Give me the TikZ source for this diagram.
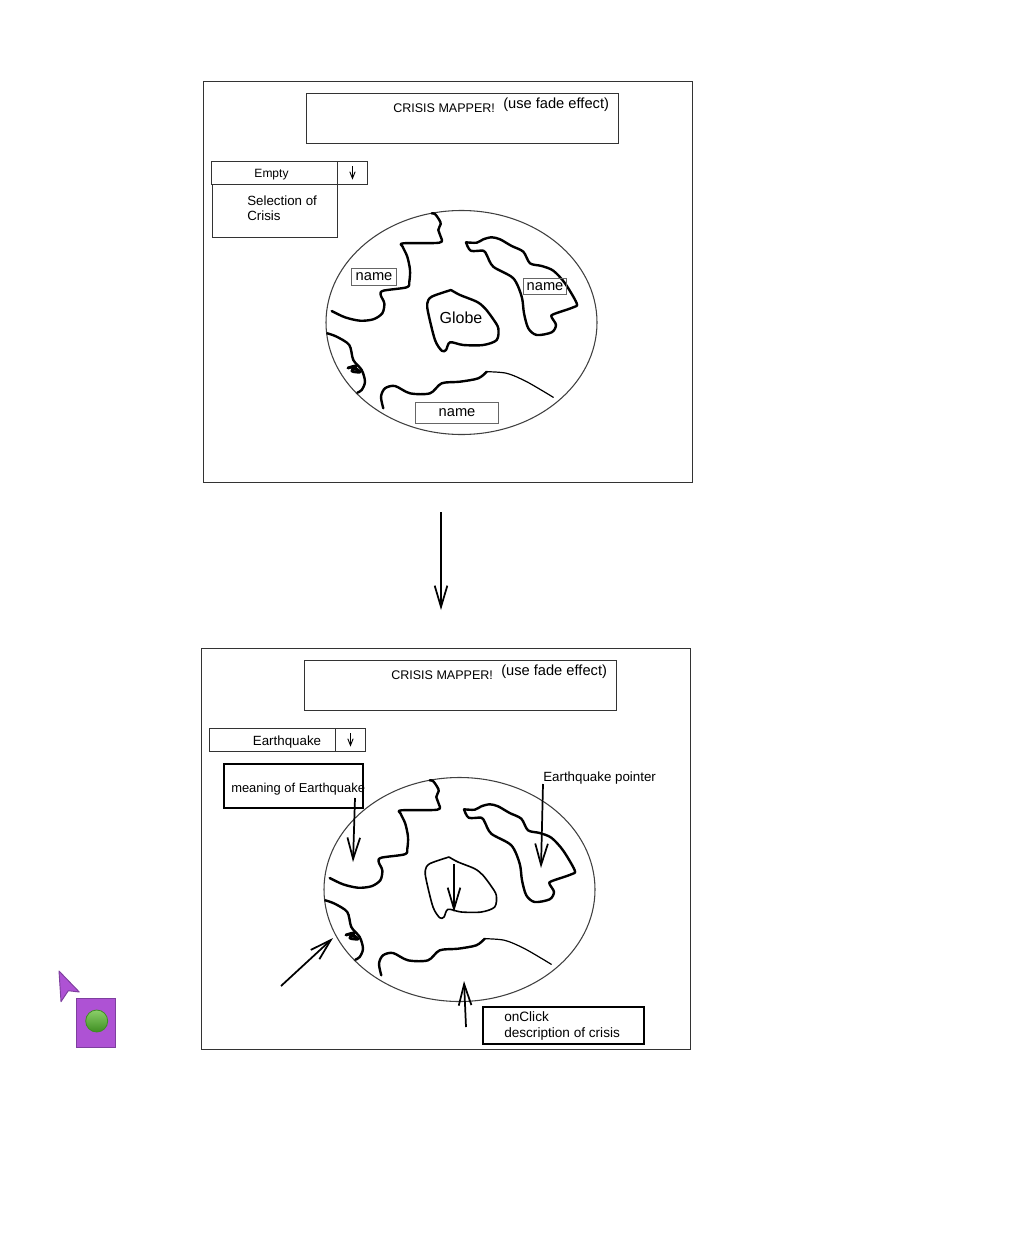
\documentclass[tikz,border=0pt]{standalone}
\usepackage{fontspec}
\setmainfont{Liberation Sans}
\usetikzlibrary{arrows.meta,shapes.geometric}
\definecolor{cursorfill}{HTML}{AE52D4}
\definecolor{cursoredge}{HTML}{7E3F9E}
\definecolor{dottop}{HTML}{8BCF6A}
\definecolor{dotbottom}{HTML}{3E8E22}
\tikzset{
  wh/.style 2 args={minimum width=#1*0.75pt,minimum height=#2*0.75pt,inner sep=0pt,anchor=north west},
  wirebox/.style={draw=black!80,line width=0.7pt},
  graybox/.style={draw=black!60,line width=0.8pt},
  heavybox/.style={draw=black,line width=1.6pt},
  hand/.style={font=\fontsize{10}{11.3}\selectfont,inner sep=0pt},
  coast/.style={line width=1.8pt,line cap=round,line join=round},
  pointer/.style={line width=1.3pt,-{Straight Barb[length=16pt,width=9.5pt]}},
  pics/mapper/.style={code={
    % Frame and title
    \node [wirebox,wh={489}{401}] (frame) at (203,81) {};
    \node [wirebox,wh={312}{50}] (title) at (306,93) {};
    \node [hand,anchor=west,font=\fontsize{9.4}{11}\selectfont] (heading) at (393,108) {CRISIS MAPPER!};
    \node [hand,anchor=west,font=\fontsize{11}{12}\selectfont] (fade) at (503,105) {(use fade effect)};
    % Combo box
    \node [wirebox,wh={126}{23}] (combo) at (211,161) {};
    \node [wirebox,wh={30}{23}] (cell) at (337,161) {};
    \draw [line width=0.7pt,xshift=-1.5pt,-{Straight Barb[length=5pt,width=4pt]},shorten <=4pt,shorten >=4pt] (cell.north) -- (cell.south);
    % Globe
    \node [draw=black!75,line width=0.8pt,ellipse,minimum width=271*0.75pt,minimum height=224*0.75pt,inner sep=0pt] (globe) at (461.5,322.5) {};
    \draw [coast] plot [smooth,tension=0.5] coordinates {(431.7,213.3) (435,214) (439.3,220) (440.7,224) (438.3,230) (440.7,236.7) (439.3,242.7) (403.3,243.3) (402.7,246.7) (407.3,256.7) (410,270) (409.3,281.7) (406.7,287.3) (383.3,290.7) (380.7,295) (384.3,303.3) (382.3,313.3) (373.3,319.3) (360,320.7) (345,317.3) (331.7,311)};
    \draw [coast] plot [smooth,tension=0.5] coordinates {(466,242.3) (476.7,242.7) (483.3,239.3) (491.7,237.3) (500,239.3) (511.7,246) (523.3,251.7) (530,263.3) (541.7,266) (553.3,270.7) (565,283.3) (576.7,303.3) (573.3,307.3) (553.3,314.3) (551.7,317.3) (556,325) (551.7,332.3) (536.7,335) (528.3,328.3) (524,313.3) (521.7,296.7) (513.3,278.3) (493.3,266.7) (486.7,255) (483.3,250.7) (470.7,250.7) (466,242.3)};
    \draw [coast,line width=#1] plot [smooth,tension=0.5] coordinates {(451,290) (460,295) (476.7,301.7) (485,308.3) (493.3,319.3) (498.3,328.3) (496.7,340) (483.3,345) (463.3,345) (450,342.3) (446,350) (441.7,350.7) (435,340) (428.3,313.3) (427.3,303.3) (431.7,296.7) (451,290)};
    \draw [coast] plot [smooth,tension=0.5] coordinates {(327.3,333.3) (336.7,336.7) (349.3,345) (353.3,360) (361.7,370) (365,381.7) (361.7,390) (357.3,392.7)};
    \draw [coast,line width=2.2pt] plot [smooth,tension=0.5] coordinates {(348,368) (356,366) (352,371) (360,372) (355,368)};
    \draw [coast] plot [smooth,tension=0.5] coordinates {(383.3,408.3) (381,396.7) (385,388.3) (395,386) (410,393.3) (430,393.3) (441.7,383.3) (460,381.7) (478.3,378.3) (486.7,371.7)};
    \draw [line width=0.9pt,line cap=round] plot [smooth,tension=0.5] coordinates {(486.7,371.7) (506.7,373.3) (526.7,381.7) (553.3,397.3)};
  }}
}
\begin{document}
\begin{tikzpicture}[x=0.75pt,y=-0.75pt]
    \useasboundingbox (0,0) rectangle (1012,1242);
    % Screens
    \pic (upper) at (0,0) {mapper={1.8pt}};
    \pic (lower) at (-2,567) {mapper={1.2pt}};

    % Upper screen
    \node [hand,font=\fontsize{9}{10}\selectfont] (empty) at (271.5,175) {Empty};
    \node [wirebox,wh={125}{53}] (selection) at (212,184) {};
    \node [hand,anchor=west,align=left] (selectiontext) at (247,208) {Selection of\\Crisis};
    \node [hand,font=\fontsize{12}{13}\selectfont] (globename) at (461,318) {Globe};
    \node [graybox,hand,font=\fontsize{11}{12}\selectfont,wh={45}{17}] (nameleft) at (351,268) {name};
    \node [graybox,hand,font=\fontsize{11}{12}\selectfont,wh={43}{16}] (nameright) at (523,278) {name};
    \node [graybox,hand,font=\fontsize{11}{12}\selectfont,wh={83}{21}] (namebottom) at (415,402) {name};

    % Arrow between the screens
    \coordinate (flowstart) at (441,512);
    \coordinate (flowend) at (441,610);
    \draw [pointer] (flowstart) -- (flowend);

    % Lower screen
    \node [hand] (earthquake) at (287,742) {Earthquake};
    \node [heavybox,wh={139}{44}] (meaning) at (223,763) {};
    \node [hand,anchor=west,font=\fontsize{9.7}{11}\selectfont] (meaningtext) at (231,789) {meaning of Earthquake};
    \node [hand,anchor=west] (pointertext) at (543,778) {Earthquake pointer};
    \node [heavybox,wh={161}{37}] (onclick) at (482,1006) {};
    \node [hand,anchor=west,align=left,font=\fontsize{10.2}{11.3}\selectfont] (onclicktext) at (504,1026) {onClick\\description of crisis};

    % Arrows
    \coordinate (meaningstart) at (355,798);
    \coordinate (meaningend) at (353,862);
    \coordinate (quakestart) at (543,784);
    \coordinate (quakeend) at (541,868);
    \coordinate (centerstart) at (454,864);
    \coordinate (centerend) at (454,912);
    \coordinate (sidestart) at (281,986);
    \coordinate (sideend) at (333,938);
    \coordinate (clickstart) at (466,1027);
    \coordinate (clickend) at (464,981);
    \draw [pointer] (meaningstart) -- (meaningend);
    \draw [pointer] (quakestart) -- (quakeend);
    \draw [pointer] (centerstart) -- (centerend);
    \draw [pointer] (sidestart) -- (sideend);
    \draw [pointer] (clickstart) -- (clickend);

    % Cursor
    \node [draw=cursoredge,line width=1pt,fill=cursorfill,wh={39}{49}] (cursorbox) at (76,998) {};
    \node [draw=dotbottom,line width=0.6pt,circle,top color=dottop,bottom color=dotbottom,minimum size=22*0.75pt,inner sep=0pt] (cursordot) at (96.7,1021) {};
    \draw [draw=cursoredge,line width=0.7pt,fill=cursorfill,line join=round] (59,971) -- (79.3,992) -- (68.3,990.7) -- (61,1001.7) -- cycle;
\end{tikzpicture}
\end{document}
